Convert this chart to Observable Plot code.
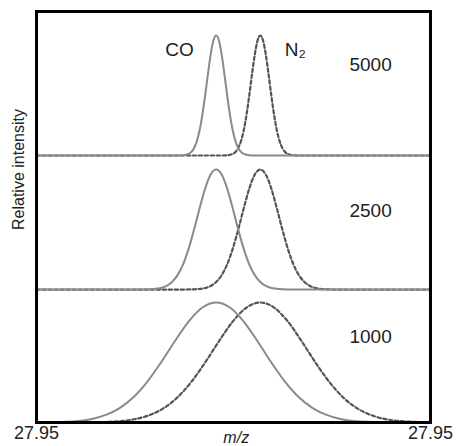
<!DOCTYPE html>
<html><head><meta charset="utf-8">
<script src="https://cdn.jsdelivr.net/npm/d3@7"></script>
<script src="https://cdn.jsdelivr.net/npm/@observablehq/plot@0.6"></script>
<style>body{margin:0;background:#fff}</style>
</head><body><div id="chart"></div>
<script>
// ---- data ----
const resolutions = [5000, 2500, 1000];
const speciesNames = ["CO", "N₂"];
const peakCentres = [27.9949, 28.0061];          // m/z of CO and N2 peaks
const peakFwhm = [0.0056, 0.0112, 0.028];        // peak width (FWHM) per resolution
const profileU = [-2, -1.75, -1.5, -1.25, -1.125, -1, -0.875, -0.75, -0.625, -0.5, -0.375, -0.25, -0.125, 0,
                  0.125, 0.25, 0.375, 0.5, 0.625, 0.75, 0.875, 1, 1.125, 1.25, 1.5, 1.75, 2]; // offset in FWHM units
const profileI = [0, 0, 0.002, 0.013, 0.030, 0.063, 0.120, 0.210, 0.339, 0.500, 0.677, 0.841, 0.958, 1,
                  0.958, 0.841, 0.677, 0.500, 0.339, 0.210, 0.120, 0.063, 0.030, 0.013, 0.002, 0, 0];
const xDomain = [27.9493, 28.0493];
const xTickLabels = ["27.95", "27.95"];
const resolutionLabels = ["5000", "2500", "1000"];
const yLabel = "Relative intensity";
const xLabel = "m/z";

// ---- layout (panel baselines in intensity units) ----
const panelBase = [2.225, 1.108, 0];

const rows = [];
resolutions.forEach((res, r) => {
  speciesNames.forEach((sp, s) => {
    const id = sp + "-" + res;
    rows.push({series: id, sp, r, mz: xDomain[0], i: 0});
    profileU.forEach((u, k) => {
      const mz = peakCentres[s] + u * peakFwhm[r];
      if (mz > xDomain[0] && mz < xDomain[1]) rows.push({series: id, sp, r, mz, i: profileI[k]});
    });
    rows.push({series: id, sp, r, mz: xDomain[1], i: 0});
  });
});

const labelPos = [
  {t: resolutionLabels[0], x: 28.0341, y: 2.983},
  {t: resolutionLabels[1], x: 28.0341, y: 1.767},
  {t: resolutionLabels[2], x: 28.0341, y: 0.717}
];

const chart = Plot.plot({
  width: 456, height: 446,
  marginLeft: 36, marginRight: 26, marginTop: 11, marginBottom: 24,
  style: {fontFamily: "Arial, 'Liberation Sans', Helvetica, sans-serif", fontSize: "18px", color: "#222", background: "#fff"},
  x: {domain: xDomain, label: null},
  y: {domain: [0, 3.425], axis: null},
  marks: [
    Plot.line(rows.filter(d => d.sp === speciesNames[1]), {x: "mz", y: d => panelBase[d.r] + d.i, z: "series",
      stroke: "#555", strokeWidth: 2.2, strokeDasharray: "3.5,2.5", curve: "monotone-x"}),
    Plot.line(rows.filter(d => d.sp === speciesNames[0]), {x: "mz", y: d => panelBase[d.r] + d.i, z: "series",
      stroke: "#8a8a8a", strokeWidth: 2, curve: "monotone-x"}),
    Plot.text(labelPos, {x: "x", y: "y", text: "t", fontSize: 19, fill: "#222"}),
    Plot.text([speciesNames[0]], {x: 27.9856, y: 3.108, text: d => d, fontSize: 19, fill: "#222"}),
    Plot.text([speciesNames[1]], {x: 28.0150, y: 3.108, text: d => d, fontSize: 19, fill: "#222"}),
    Plot.text([yLabel], {x: xDomain[0], y: 2.108, dx: -18, rotate: -90, text: d => d, fontSize: 16, fill: "#222"}),
    Plot.text([xLabel], {x: 28.0, y: 0, dy: 15, text: d => d, fontSize: 16, fontStyle: "italic", fill: "#222"}),
    Plot.axisX({ticks: xDomain, tickFormat: d => xTickLabels[xDomain.indexOf(d)], tickSize: 0, tickPadding: 4, fontSize: 18, label: null}),
    Plot.frame({stroke: "#000", strokeWidth: 3})
  ]
});
document.getElementById("chart").appendChild(chart);
</script>
</body></html>
